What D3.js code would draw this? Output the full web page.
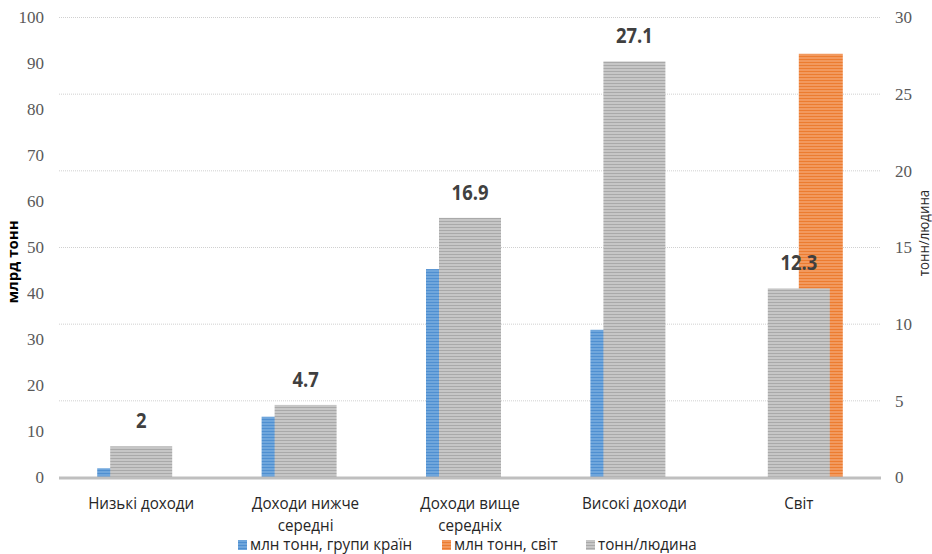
<!DOCTYPE html>
<html><head><meta charset="utf-8">
<script src="https://cdn.jsdelivr.net/npm/d3@7"></script>
<style>body{margin:0;background:#fff}svg{display:block}</style>
</head><body>
<svg id="c" width="932" height="554"></svg>
<script>
const categories = ["Низькі доходи", "Доходи нижче середні", "Доходи вище середніх", "Високі доходи", "Світ"];
const categoryLines = [["Низькі доходи"], ["Доходи нижче", "середні"], ["Доходи вище", "середніх"], ["Високі доходи"], ["Світ"]];
const groupsMt = [1.9, 13.1, 45.2, 32.0, null];      // млн тонн, групи країн (left axis)
const worldMt = [null, null, null, null, 92.0];      // млн тонн, світ (left axis)
const perCapita = [2, 4.7, 16.9, 27.1, 12.3];        // тонн/людина (right axis)
const leftTicks = [0, 10, 20, 30, 40, 50, 60, 70, 80, 90, 100];
const rightTicks = [0, 5, 10, 15, 20, 25, 30];
const legendLabels = ["млн тонн, групи країн", "млн тонн, світ", "тонн/людина"];

const svg = d3.select("#c");
const L = 59, R = 881, T = 17, B = 477;
const x = d3.scaleBand().domain(categories).range([L, R]).padding(0);
const bw = x.bandwidth();
const yL = d3.scaleLinear().domain([0, 100]).range([B, T]);
const yR = d3.scaleLinear().domain([0, 30]).range([B, T]);
const sub = d3.scaleBand().domain(["g", "w"]).range([bw / 2 - 44, bw / 2 + 44]).padding(0);
const greyW = 62;

// patterns (horizontal stripes)
const defs = svg.append("defs");
function stripe(id, base, line) {
  const p = defs.append("pattern").attr("id", id).attr("patternUnits", "userSpaceOnUse")
    .attr("width", 4).attr("height", 3);
  p.append("rect").attr("width", 4).attr("height", 3).attr("fill", base);
  p.append("rect").attr("y", 2).attr("width", 4).attr("height", 1).attr("fill", line);
}
stripe("pBlue", "#6fa6dc", "#4f8fd0");
stripe("pOrange", "#f2995e", "#ec7c30");
stripe("pGrey", "#c6c6c6", "#a9a9a9");

// gridlines (right axis ticks)
svg.append("g").selectAll("line").data(rightTicks.filter(d => d > 0)).join("line")
  .attr("x1", L).attr("x2", R).attr("y1", d => yR(d) + 0.5).attr("y2", d => yR(d) + 0.5)
  .attr("stroke", "#d0d0d0").attr("stroke-width", 1).attr("stroke-dasharray", "1,1");

// primary bars
svg.append("g").selectAll("rect").data(categories.map((c, i) => ({c, v: groupsMt[i]})).filter(d => d.v != null)).join("rect")
  .attr("x", d => x(d.c) + sub("g")).attr("width", sub.bandwidth())
  .attr("y", d => yL(d.v)).attr("height", d => B - yL(d.v)).attr("fill", "url(#pBlue)");
svg.append("g").selectAll("rect").data(categories.map((c, i) => ({c, v: worldMt[i]})).filter(d => d.v != null)).join("rect")
  .attr("x", d => x(d.c) + sub("w")).attr("width", sub.bandwidth())
  .attr("y", d => yL(d.v)).attr("height", d => B - yL(d.v)).attr("fill", "url(#pOrange)");
// secondary bars
const pc = categories.map((c, i) => ({c, v: perCapita[i]}));
svg.append("g").selectAll("rect").data(pc).join("rect")
  .attr("x", d => x(d.c) + bw / 2 - greyW / 2).attr("width", greyW)
  .attr("y", d => yR(d.v)).attr("height", d => B - yR(d.v)).attr("fill", "url(#pGrey)");

// baseline
svg.append("line").attr("x1", L).attr("x2", R).attr("y1", B + 1).attr("y2", B + 1)
  .attr("stroke", "#bfbfbf").attr("stroke-width", 3);

// data labels
svg.append("g").selectAll("text").data(pc).join("text")
  .attr("transform", d => `translate(${x(d.c) + bw / 2},${yR(d.v) - 18}) scale(0.92,1.1)`)
  .attr("text-anchor", "middle").attr("font-family", "'Open Sans', sans-serif").attr("font-weight", 700)
  .attr("font-size", 20).attr("fill", "#404040").text(d => d.v);

// left axis
const axL = svg.append("g").attr("transform", `translate(44,0)`)
  .call(d3.axisLeft(yL).tickValues(leftTicks).tickSize(0).tickPadding(0));
axL.select(".domain").remove();
axL.selectAll("text").attr("font-family", "'Liberation Serif', serif").attr("font-size", 17)
  .attr("fill", "#595959").attr("dy", "0.35em");
// right axis
const axR = svg.append("g").attr("transform", `translate(895,0)`)
  .call(d3.axisRight(yR).tickValues(rightTicks).tickSize(0).tickPadding(0));
axR.select(".domain").remove();
axR.selectAll("text").attr("font-family", "'Liberation Serif', serif").attr("font-size", 17)
  .attr("fill", "#595959").attr("dy", "0.35em");

// category labels
const cat = svg.append("g").selectAll("g").data(categories).join("g");
cat.each(function(c, i) {
  categoryLines[i].forEach((ln, j) => {
    d3.select(this).append("text")
      .attr("transform", `translate(${x(c) + bw / 2},${509 + j * 22}) scale(0.95,1.05)`)
      .attr("text-anchor", "middle").attr("font-family", "'Open Sans', sans-serif")
      .attr("font-size", 16).attr("fill", "#262626").text(ln);
  });
});

// axis titles
svg.append("text").attr("transform", "translate(18,262) rotate(-90) scale(1,1)")
  .attr("text-anchor", "middle").attr("font-family", "'Open Sans', sans-serif").attr("font-weight", 700)
  .attr("font-size", 15).attr("fill", "#000").text("млрд тонн");
svg.append("text").attr("transform", "translate(929,233) rotate(-90) scale(0.95,1)")
  .attr("text-anchor", "middle").attr("font-family", "'Open Sans', sans-serif")
  .attr("font-size", 14).attr("fill", "#262626").text("тонн/людина");

// legend
const legX = [238, 442, 586];
const legFill = ["url(#pBlue)", "url(#pOrange)", "url(#pGrey)"];
const leg = svg.append("g").selectAll("g").data(legendLabels).join("g")
  .attr("transform", (d, i) => `translate(${legX[i]},540)`);
leg.append("rect").attr("width", 9).attr("height", 10).attr("fill", (d, i) => legFill[i]);
leg.append("text").attr("transform", "translate(12,10) scale(0.95,1.05)")
  .attr("font-family", "'Open Sans', sans-serif").attr("font-size", 16).attr("fill", "#262626").text(d => d);
</script>
</body></html>
